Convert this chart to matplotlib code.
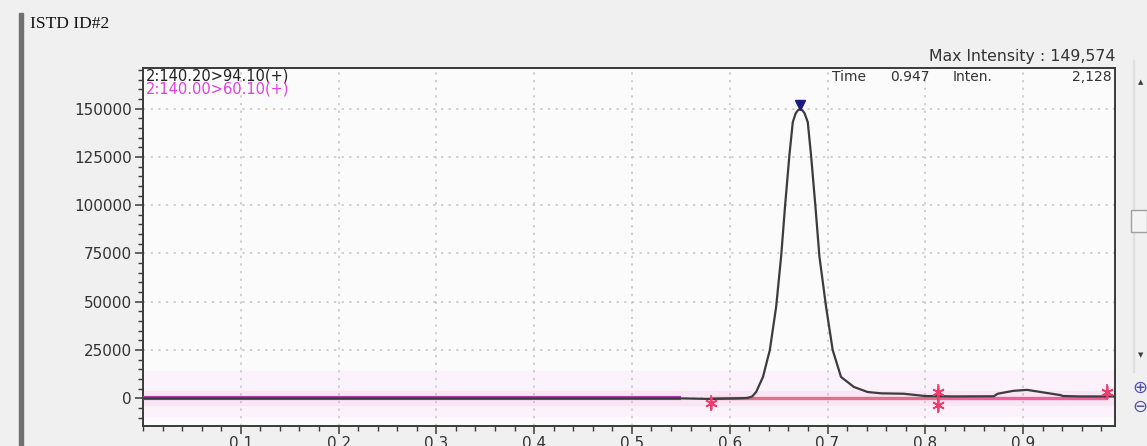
import matplotlib
matplotlib.use("Agg")
import matplotlib.pyplot as plt
from matplotlib.patches import Rectangle
from matplotlib.ticker import MultipleLocator

# ---------------- data ----------------
t_black = [0.000, 0.550, 0.580, 0.607, 0.618, 0.623, 0.627, 0.634, 0.641, 0.6475,
           0.6526, 0.6566, 0.661, 0.6645, 0.6675, 0.670, 0.672, 0.674, 0.6765,
           0.6798, 0.6832, 0.6876, 0.6917, 0.6985, 0.7053, 0.7138, 0.727, 0.741,
           0.755, 0.778, 0.800, 0.830, 0.870, 0.874, 0.890, 0.904, 0.918, 0.938,
           0.941, 0.960, 0.994]
i_black = [0, 0, -300, 0, 200, 1000, 3300, 11100, 25000, 47500,
           73600, 99600, 125700, 143000, 147600, 149300, 149574, 149300, 147600,
           143000, 125700, 99600, 73600, 47500, 25000, 11100, 5900, 3300,
           2600, 2400, 1200, 1000, 1100, 2400, 3900, 4400, 3300, 1700,
           1200, 1000, 1000]

t_magenta = [0.000, 0.550]
i_magenta = [0, 0]

base1_t = [0.581, 0.8135]
base1_i = [0, 0]
base2_t = [0.8135, 0.986]
base2_i = [0, 0]

star_t = [0.581, 0.8135, 0.8135, 0.986]
star_i = [-2600, 3500, -3500, 3500]

peak_time = 0.672
peak_inten = 149574

label_black = "2:140.20>94.10(+)"
label_magenta = "2:140.00>60.10(+)"
title = "ISTD ID#2"
max_text = "Max Intensity : 149,574"
cursor_time = "0.947"
cursor_inten = "2,128"

xticks = [0.1, 0.2, 0.3, 0.4, 0.5, 0.6, 0.7, 0.8, 0.9]
yticks = [0, 25000, 50000, 75000, 100000, 125000, 150000]

# ---------------- figure ----------------
W, H = 1147, 446
fig = plt.figure(figsize=(W / 100, H / 100), dpi=100, facecolor="#f0f0f0")

def fx(px):
    return px / W

def fy(py):
    return 1 - py / H

ax = fig.add_axes([fx(143), fy(426), fx(1115) - fx(143), fy(68) - fy(426)])
ax.set_facecolor("#fbfbfb")
ax.set_xlim(0.0, 0.994)
ax.set_ylim(-14300, 171000)

# faint baseline band
ax.axhspan(-9000, 14000, color="#fcf2fb", zorder=0)
ax.axhspan(-3500, 4000, color="#f9e6f4", zorder=0)

# grid
ax.set_xticks(xticks)
ax.set_yticks(yticks)
ax.xaxis.set_minor_locator(MultipleLocator(0.02))
ax.yaxis.set_minor_locator(MultipleLocator(5000))
ax.grid(True, which="major", color="#c4c4c4", linestyle=(0, (1.5, 3.5)), linewidth=1.1, zorder=1)

# traces
ax.plot(t_magenta, i_magenta, color="#b040b0", lw=3.0, zorder=3, solid_capstyle="butt")
ax.plot(base1_t, base1_i, color="#e2708c", lw=2.4, zorder=3, solid_capstyle="butt")
ax.plot(base2_t, base2_i, color="#f0609a", lw=2.4, zorder=3, solid_capstyle="butt")
ax.plot(t_black, i_black, color="#3c3c3c", lw=1.6, zorder=4, solid_joinstyle="round")

# peak marker
ax.plot([peak_time], [peak_inten + 2500], marker="v", color="#1a1a80", markersize=7,
        zorder=5, linestyle="none")

# integration markers
ax.plot(star_t, star_i, linestyle="none", marker=(6, 2, 0), markersize=9,
        color="#f03c6c", markeredgewidth=1.2, zorder=5)
ax.plot(star_t, star_i, linestyle="none", marker="|", markersize=11,
        color="#f03c6c", markeredgewidth=1.2, zorder=5)

# ticks / spines
for sp in ax.spines.values():
    sp.set_color("#3a3a3a")
    sp.set_linewidth(1.4)
ax.tick_params(axis="both", which="major", direction="out", length=6, width=1.1,
               color="#3a3a3a", labelsize=11, labelcolor="#333333", pad=2)
ax.tick_params(axis="x", which="major", pad=1.5)
ax.tick_params(axis="both", which="minor", direction="out", length=3.5, width=1.0,
               color="#3a3a3a")
ax.set_xticklabels([f"{v:.1f}" for v in xticks])
ax.set_yticklabels([str(v) for v in yticks])

# texts inside axes
fig.text(fx(146), fy(76), label_black, fontsize=10.5, color="#222222", va="center", ha="left")
fig.text(fx(146), fy(89), label_magenta, fontsize=10.5, color="#e040e0", va="center", ha="left")
fig.text(fx(832), fy(77), "Time", fontsize=10, color="#333333", va="center", ha="left")
fig.text(fx(890), fy(77), cursor_time, fontsize=10, color="#333333", va="center", ha="left")
fig.text(fx(953), fy(77), "Inten.", fontsize=10, color="#333333", va="center", ha="left")
fig.text(fx(1112), fy(77), cursor_inten, fontsize=10, color="#333333", va="center", ha="right")

fig.text(fx(1115), fy(56), max_text, fontsize=11.3, color="#333333", va="center", ha="right")
fig.text(fx(30), fy(24), title, fontsize=12.5, color="#111111", va="center", ha="left",
         family="Liberation Serif")

# left panel border
fig.add_artist(Rectangle((fx(19), 0), fx(4), fy(13), transform=fig.transFigure,
                         color="#707070", zorder=0))
# right side scroll widgets
fig.add_artist(Rectangle((fx(1133), fy(372)), fx(1), fy(60) - fy(372),
                         transform=fig.transFigure, color="#e0e0e0", zorder=0))
fig.add_artist(Rectangle((fx(1131), fy(232)), fx(16), fy(210) - fy(232), transform=fig.transFigure,
                         facecolor="#f4f4f4", edgecolor="#a0a0a0", lw=1, zorder=1))
fig.text(fx(1141), fy(82), "▲", fontsize=5, color="#404040", ha="center", va="center")
fig.text(fx(1141), fy(355), "▼", fontsize=5, color="#404040", ha="center", va="center")
fig.text(fx(1140), fy(388), "⊕", fontsize=13, color="#5050b0", ha="center", va="center")
fig.text(fx(1140), fy(407), "⊖", fontsize=13, color="#5050b0", ha="center", va="center")

fig.savefig("out.png", dpi=100, facecolor=fig.get_facecolor())
